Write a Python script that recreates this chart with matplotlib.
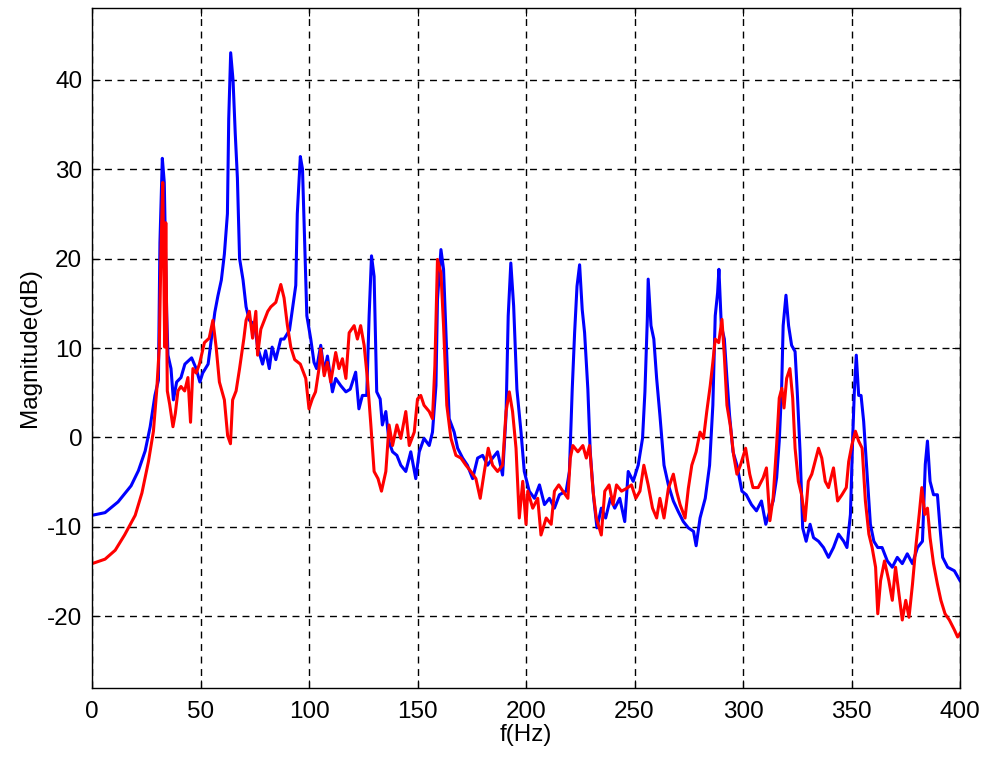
import matplotlib
matplotlib.use("Agg")
import matplotlib.pyplot as plt

# spectrum magnitudes, blue trace
f_blue = [0, 6, 12, 18, 21.4, 24.5, 26.8, 29, 30.6, 31.3, 32.4, 33.3, 34.4, 35, 36.4,
          37.5, 39, 41, 42.8, 45.9, 48, 49.7, 51, 53.5, 55, 56.6, 58, 59.6, 61, 62.4,
          63, 63.9, 65, 66, 67, 68, 69.6, 71, 72.5, 75, 76.3, 78.6, 80, 81.7, 83, 84.7,
          87, 88.5, 91, 92.8, 93.9, 94.6, 96, 97, 99, 100.8, 102.3, 103.5, 105.4, 107,
          108.5, 110.8, 112.3, 114.6, 117, 119, 121.5, 123, 124.6, 126.6, 127.7, 128.8,
          130, 131.2, 132.8, 133.8, 135.4, 136.9, 138.5, 140.5, 142.3, 144.6, 146.9,
          149.2, 150.8, 153, 155.4, 156.9, 158.5, 159.2, 160.8, 162, 163, 164.6, 166.9,
          168.5, 170.8, 173, 175.4, 177.7, 180, 182.3, 184.6, 186.9, 189.2, 190.8, 191.8,
          193, 194.3, 195.8, 197.7, 199.2, 201.5, 203.9, 206.2, 208.5, 210.8, 213.1,
          215.4, 218.5, 220, 221.3, 222.4, 223.5, 224.7, 225.9, 227, 228.5, 229.6, 231.2,
          232.7, 234.7, 236.7, 238.9, 240.9, 243.2, 245.5, 247.1, 249.4, 251.7, 253.7,
          254.8, 255.9, 256.3, 257.6, 258.9, 260.2, 261.7, 263.6, 265.6, 267.9, 270.2,
          272.5, 274.8, 277.2, 278.4, 280.2, 282.6, 284.6, 286.1, 287.2, 288.3, 288.9,
          290, 291.4, 292.6, 293.8, 295.4, 297.2, 299.5, 301.5, 303.9, 306.2, 308.5,
          310.5, 312.4, 313.9, 315.5, 316.7, 317.8, 318.5, 319.8, 321, 322.4, 324, 325,
          326.3, 327.5, 329.1, 330.9, 332.5, 334.8, 337.1, 339.4, 341.7, 344, 346.4,
          347.9, 349.5, 350.5, 351.3, 352.2, 353.3, 354.4, 355.6, 357.2, 358.7, 360.3,
          362.1, 364.1, 366.5, 368.8, 371.1, 373.4, 375.7, 378.1, 380.4, 382.7, 384, 385,
          386.2, 387.8, 389.6, 390.9, 392, 394.3, 397.4, 400]
mag_blue = [-8.7, -8.4, -7.2, -5.4, -3.7, -1.5, 1.2, 4.7, 6.4, 21.8, 31.2, 28.5, 14, 9.2,
            7.7, 4.2, 6.2, 6.7, 8.2, 8.9, 7.7, 6.2, 7.2, 8.2, 11, 14, 15.8, 17.6, 20.5, 25,
            35.6, 43, 39.9, 34, 29, 20, 17.6, 14.6, 13.1, 12.6, 10.1, 8.2, 9.7, 7.7, 10.1,
            8.7, 11, 11, 12, 15.1, 17, 25, 31.4, 30, 13.6, 11, 8.4, 7.7, 10.3, 7.3,
            9.1, 5.1, 6.6, 5.8, 5.1, 5.4, 7.3, 3.2, 4.7, 4.7, 13.6, 20.3,
            18, 5.1, 4.3, 1.4, 2.9, -0.5, -1.6, -2, -3.1, -3.8, -1.6,
            -4.6, -1.6, -0.1, -0.9, 0.6, 5.8, 15.4, 21, 18.8, 12.5, 2.1, 0.6,
            -1.2, -2.3, -3.1, -4.6, -2.3, -2, -3.1, -2.3, -1.6, -4.2, 2.5, 13.6,
            19.5, 14.7, 5.4, 0.6, -3.8, -6, -6.8, -5.3, -7.5, -6.8, -7.9,
            -6.4, -6, -3.8, 5.4, 11.7, 16.9, 19.3, 14.3, 11.7, 5.4, -1.6, -6.8,
            -10.1, -7.9, -9, -6.8, -7.9, -6.8, -9.4, -3.8, -4.9, -3.1, -0.1,
            5.1, 13.2, 17.7, 12.5, 11, 6.6, 2.5, -3.1, -5.3, -7.1, -8.3,
            -9.4, -10.1, -10.5, -12.1, -9, -6.8, -3.1, 3.6, 13.6, 16.2, 18.8,
            12.5, 11, 6.6, 2.5, -1.6, -3.1, -6, -6.4, -7.5, -8.2, -7.1,
            -9.7, -8.2, -7.1, -4.5, -0.4, 5.5, 12.5, 15.9, 12.5, 10.3, 9.6, 5.1,
            -1.6, -10.1, -11.6, -9.7, -11.2, -11.6, -12.3, -13.4, -12.3, -10.8, -11.6,
            -12.3, -8.6, -0.4, 5.1, 9.2, 4.7, 4.7, 1.8, -4.1, -9.7, -11.6,
            -12.3, -12.3, -13.8, -14.5, -13.4, -14.1, -13, -14.1, -12.3, -11.6, -3, -0.4,
            -4.9, -6.4, -6.4, -10.4, -13.4, -14.5, -14.9, -16]

# spectrum magnitudes, red trace
f_red = [0, 6, 10.7, 15, 19.9, 23, 26, 28.3, 29.8, 31, 31.8, 32.6, 33.5, 34, 34.7, 35.8,
         37.3, 38.4, 39.6, 41, 42.7, 44.2, 45.4, 46.5, 48, 49.5, 51.8, 54, 55.7, 57.2,
         58.7, 61, 62.5, 63.8, 64.8, 66.4, 68, 70, 71, 72.5, 74, 75.5, 76.3, 77.8, 79.4,
         81, 82.4, 84.7, 87, 88.5, 90, 91.6, 93.4, 96, 98.5, 100, 101.5, 103, 104.6,
         105.4, 107, 108.5, 110, 112.3, 113.8, 115.4, 117, 118.5, 120.8, 122.3, 123.8,
         125.4, 126.9, 128.5, 130, 131.8, 133.4, 135.4, 136.9, 138.5, 140.5, 142.3,
         144.6, 146.2, 148.5, 150, 151.5, 153, 155.4, 156.9, 158, 159.2, 160.8, 162,
         163.5, 165.4, 167.7, 170, 172.3, 174.6, 176.9, 178.9, 180.8, 182.6, 184.6,
         186.9, 189.2, 190.8, 192.3, 193.8, 195.4, 196.9, 198.5, 200, 200.8, 203.1,
         205.4, 206.9, 209.3, 211.6, 213.1, 215.1, 217, 219.3, 220.4, 221.6, 223.9,
         226.2, 227.8, 229.3, 230.9, 232.4, 234.7, 236.3, 238.3, 240.1, 241.7, 244,
         246.3, 248.6, 250.6, 252.5, 254.3, 256.3, 258.3, 260.2, 261.7, 263.6, 265.6,
         267.9, 269.4, 271, 273.3, 274.8, 276.4, 278.4, 280.2, 281.8, 283.3, 284.9,
         286.1, 287.2, 288.8, 290.3, 291.4, 292.6, 294.1, 295.7, 297.2, 298.8, 301.2,
         303.1, 304.6, 307, 309.3, 310.8, 312.4, 313.9, 315.5, 316.7, 317.9, 318.9,
         320.1, 321.6, 322.9, 324, 325.5, 327, 328.6, 330.1, 331.7, 333.2, 334.8,
         336.3, 337.9, 339.4, 341.7, 343.6, 345.6, 347.6, 348.7, 350.2, 351.8, 353.3,
         354.9, 356.4, 358, 359.5, 361.1, 362.1, 363.4, 365.2, 367.2, 368.8, 370.3,
         371.9, 373.4, 375, 376.5, 378.1, 379.6, 381.2, 382.4, 383.8, 385, 386.2,
         387.8, 389.6, 391.2, 393.1, 395.1, 397.4, 398.9, 400]
mag_red = [-14.1, -13.6, -12.6, -10.9, -8.7, -6.2, -2.7, 0.7, 5.2, 10.1, 21, 28.5, 10.1, 24,
           5.2, 3.7, 1.2, 2.7, 5.2, 5.7, 5.2, 6.7, 1.7, 7.7, 7.2, 8.2, 10.6, 11.1, 13.1,
           10.1, 6.2, 4.2, 0.2, -0.7, 4.2, 5.2, 7.7, 11.1, 13.1, 14.1, 11.1, 14.1, 9.2,
           12.1, 13.1, 14.1, 14.6, 15.1, 17.1, 15.6, 12.6, 10.1, 8.7, 8.2, 6.6, 3.2, 4.3,
           5.1, 7.7, 9.9, 6.9, 8.4, 6.2, 9.5, 7.7, 8.8, 6.6, 11.7, 12.5, 11, 12.5, 10.3,
           6.6, 1.4, -3.8, -4.6, -6, -3.8, 1.4, -0.9, 1.4, -0.1, 2.9, -0.9, 0.6, 4.3,
           4.7, 3.6, 2.9, 2.1, 8, 19.9, 18.4, 12.5, 3.6, -0.1, -2, -2.3, -3.1, -3.8,
           -4.6, -6.8, -3.8, -1.2, -3.1, -3.8, -3.1, 2.9, 5.1, 2.9, -1.2, -9, -4.9,
           -9.7, -6, -7.9, -6.8, -10.9, -9, -9.7, -6, -5.3, -6, -6.8, -2.3, -0.9, -1.6,
           -0.9, -2.3, -0.9, -6, -9, -10.9, -6, -5.3, -7.5, -5.3, -6, -5.7, -5.3, -6.8,
           -6, -3.1, -5.3, -7.9, -9, -6.8, -9, -5.7, -4.1, -6, -7.5, -9, -5.7, -3.1,
           -1.6, 0.6, -0.1, 2.9, 5.8, 8.4, 11, 10.6, 13.2, 9.1, 3.6, 1.4, -2, -4.1,
           -3.1, -1.2, -4.1, -5.6, -5.6, -4.5, -3.4, -9.3, -6.7, -0.8, 4.4, 5.5, 3.3,
           6.6, 7.7, 4.4, -1.2, -4.9, -6.4, -9.3, -4.9, -4.1, -2.7, -1.2, -2.3, -4.9,
           -5.6, -3.4, -7.1, -6.4, -5.6, -2.7, -0.8, 0.7, -0.4, -1.2, -7.1, -10.8,
           -12.3, -14.5, -19.7, -16, -13.8, -16, -18.2, -14.5, -17.5, -20.4, -18.2,
           -20.1, -16.4, -12.3, -8.6, -5.6, -8.6, -7.9, -11.2, -14.1, -16.4, -18.2,
           -19.7, -20.4, -21.5, -22.3, -21.9]

x_ticks = [0, 50, 100, 150, 200, 250, 300, 350, 400]
y_ticks = [-20, -10, 0, 10, 20, 30, 40]

plt.rcParams['font.family'] = ['Liberation Sans', 'DejaVu Sans']
plt.rcParams['axes.unicode_minus'] = False

fig = plt.figure(figsize=(9.82, 7.62), dpi=100)
ax = fig.add_axes([0.0937, 0.0971, 0.8839, 0.8924])

ax.plot(f_blue, mag_blue, color='#0000ff', lw=2.2)
ax.plot(f_red, mag_red, color='#ff0000', lw=2.2)

ax.set_xlim(0, 400)
ax.set_ylim(-28, 48)
ax.set_xticks(x_ticks)
ax.set_yticks(y_ticks)
ax.grid(True, color='black', linestyle=(0, (5, 4)), linewidth=1.0)
ax.tick_params(axis='both', direction='in', length=6, width=0.8, top=True, right=True,
               labelsize=17.5)
ax.tick_params(axis='x', pad=9)
ax.tick_params(axis='y', pad=7)
for s in ax.spines.values():
    s.set_linewidth(1.0)

ax.set_xlabel('f(Hz)', fontsize=17.5, labelpad=1)
ax.set_ylabel('Magnitude(dB)', fontsize=17.5, labelpad=4)

fig.savefig('out.png', dpi=100)
